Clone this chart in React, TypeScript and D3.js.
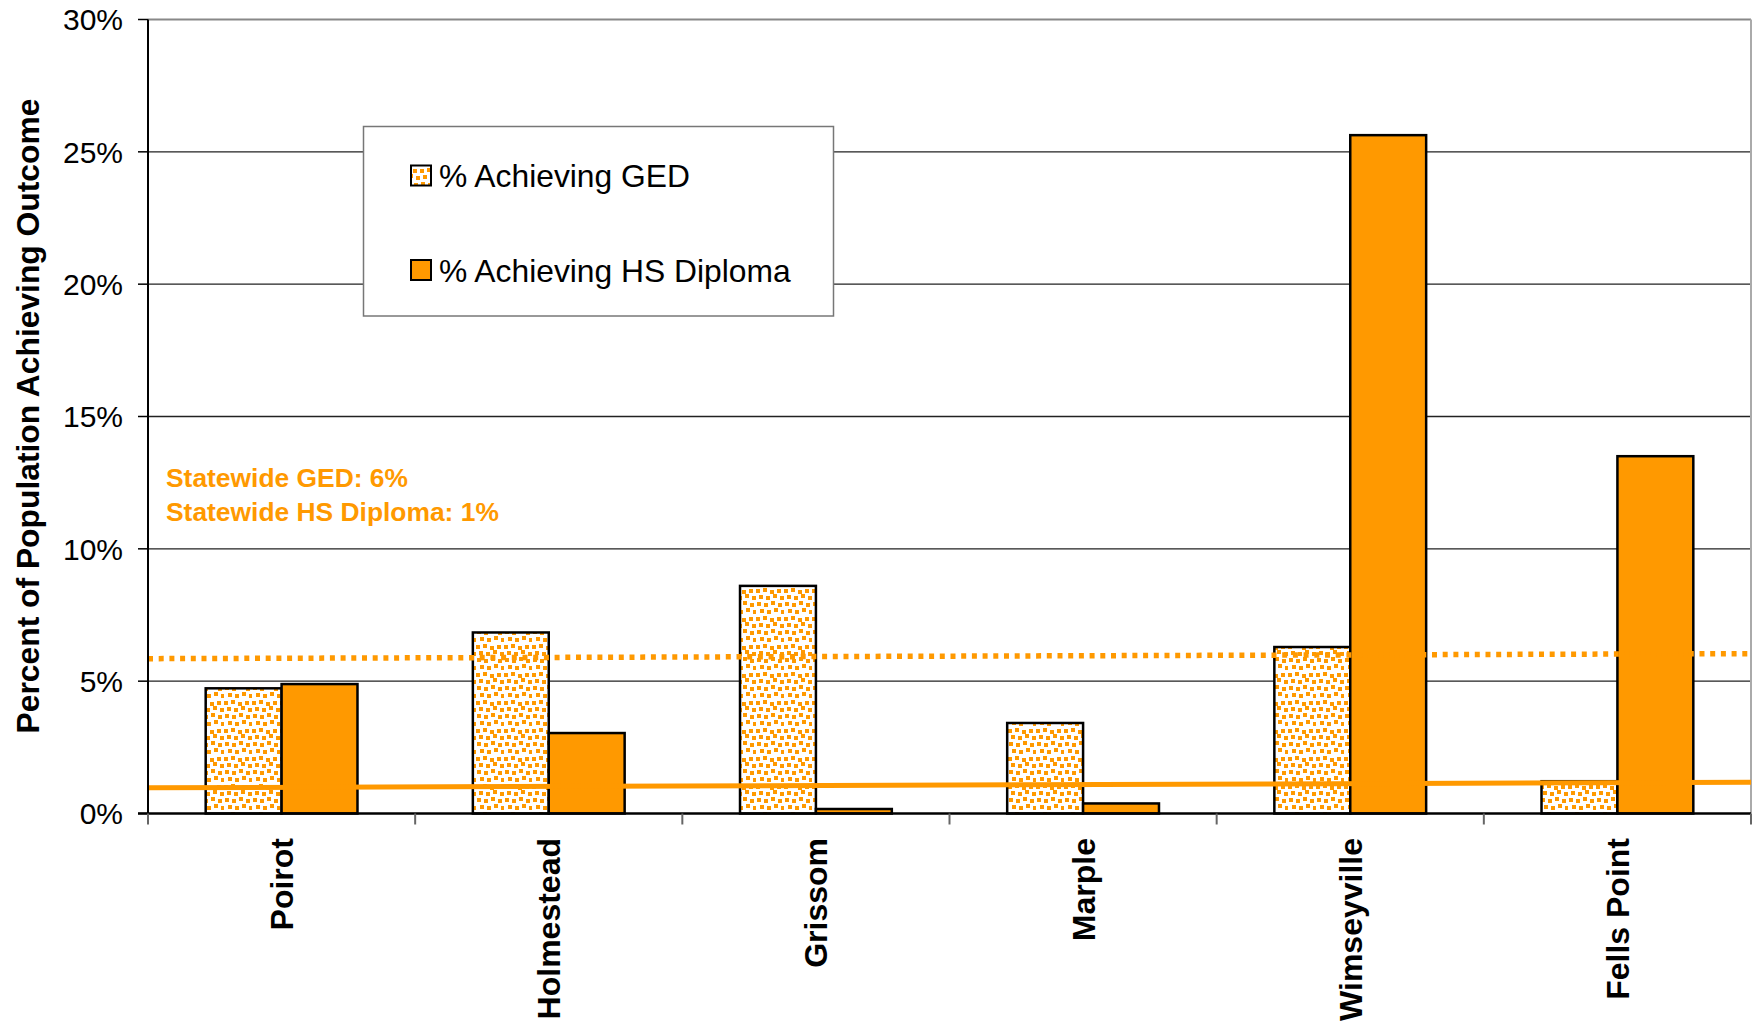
import React from "react";
import * as d3 from "d3";

const categories = ["Poirot", "Holmestead", "Grissom", "Marple", "Wimseyville", "Fells Point"];
const gedValues = [4.73, 6.84, 8.6, 3.42, 6.29, 1.22];
const hsValues = [4.89, 3.04, 0.17, 0.38, 25.63, 13.5];
const yTicks = [0, 5, 10, 15, 20, 25, 30];
const statewideGedLine = [5.85, 6.04];
const statewideHsLine = [0.97, 1.18];
const legendLabels = ["% Achieving GED", "% Achieving HS Diploma"];
const statewideNotes = ["Statewide GED: 6%", "Statewide HS Diploma: 1%"];
const yTitle = "Percent of Population Achieving Outcome";

const W = 1752;
const H = 1023;
const ORANGE = "#FF9900";
const FONT = "'Liberation Sans', Arial, Helvetica, sans-serif";

// pattern dot offsets inside a 28x28 tile (decorative texture)
const dotOffsets: [number, number][] = [
  [0, 1], [7, 0], [14, 2], [21, 1],
  [3, 7], [10, 8], [17, 6], [24, 8],
  [1, 14], [8, 15], [15, 13], [22, 15],
  [4, 21], [11, 22], [18, 20], [25, 22],
];

export default function App() {
  const left = 148;
  const right = 1751;
  const top = 19.5;
  const bottom = 813.5;

  const x = d3.scaleBand<string>().domain(categories).range([left, right]).paddingInner(0).paddingOuter(0);
  const y = d3.scaleLinear().domain([0, 30]).range([bottom, top]);
  const bw = x.bandwidth();
  const barW = bw / 3.52;
  const xLine = d3.scaleLinear().domain([0, 1]).range([left, right]);
  const lineGen = d3
    .line<number>()
    .x((_, i) => xLine(i))
    .y((d) => y(d));

  return (
    <div style={{ position: "absolute", left: 0, top: 0 }}>
      <svg width={W} height={H} style={{ display: "block", fontFamily: FONT }}>
        <defs>
          <pattern id="ged" patternUnits="userSpaceOnUse" width={28} height={28}>
            <rect width={28} height={28} fill="#fff" />
            {dotOffsets.map(([dx, dy], i) => (
              <rect key={i} x={dx} y={dy} width={4} height={4} fill={ORANGE} />
            ))}
          </pattern>
        </defs>
        <rect width={W} height={H} fill="#fff" />

        {/* gridlines */}
        {yTicks.slice(1, -1).map((t) => (
          <line key={t} x1={left} x2={right} y1={y(t)} y2={y(t)} stroke="#222" strokeWidth={1.3} />
        ))}
        {/* plot border top/right */}
        <line x1={left} x2={right} y1={y(30)} y2={y(30)} stroke="#888" strokeWidth={2} />
        <line x1={right} x2={right} y1={top} y2={bottom} stroke="#aaa" strokeWidth={2} />

        {/* legend */}
        <rect x={363.5} y={126.5} width={470} height={189.5} fill="#fff" stroke="#777" strokeWidth={1.5} />
        <rect x={411} y={165.5} width={20} height={20} fill="url(#ged)" stroke="#000" strokeWidth={2} />
        <rect x={411} y={260} width={20} height={20} fill={ORANGE} stroke="#000" strokeWidth={2} />
        <text x={439} y={187} fontSize={31.8} fill="#000">{legendLabels[0]}</text>
        <text x={439} y={282} fontSize={31.8} fill="#000">{legendLabels[1]}</text>

        {/* bars */}
        {categories.map((c, i) => {
          const cx = (x(c) as number) + bw / 2;
          return (
            <g key={c}>
              <rect x={cx - barW} y={y(gedValues[i])} width={barW} height={y(0) - y(gedValues[i])} fill="url(#ged)" stroke="#000" strokeWidth={2.5} />
              <rect x={cx} y={y(hsValues[i])} width={barW} height={y(0) - y(hsValues[i])} fill={ORANGE} stroke="#000" strokeWidth={2.5} />
            </g>
          );
        })}

        {/* statewide lines */}
        <path d={lineGen(statewideGedLine) || ""} fill="none" stroke={ORANGE} strokeWidth={5.5} strokeDasharray="5 5.7" />
        <path d={lineGen(statewideHsLine) || ""} fill="none" stroke={ORANGE} strokeWidth={5} />

        {/* statewide notes */}
        {statewideNotes.map((s, i) => (
          <text key={s} x={166} y={487 + i * 34} fontSize={26.4} fontWeight="bold" fill={ORANGE}>{s}</text>
        ))}

        {/* axes */}
        <line x1={left} x2={left} y1={top} y2={bottom} stroke="#000" strokeWidth={2} />
        <line x1={left - 10} x2={right} y1={bottom} y2={bottom} stroke="#000" strokeWidth={2.5} />
        {yTicks.map((t) => (
          <g key={t}>
            <line x1={left - 10} x2={left} y1={y(t)} y2={y(t)} stroke="#000" strokeWidth={1.5} />
            <text x={123} y={y(t)} dy="0.36em" textAnchor="end" fontSize={30} fill="#000">{`${t}%`}</text>
          </g>
        ))}
        {categories.map((c) => (
          <line key={c} x1={x(c) as number} x2={x(c) as number} y1={bottom} y2={bottom + 11} stroke="#666" strokeWidth={2} />
        ))}
        <line x1={right} x2={right} y1={bottom} y2={bottom + 11} stroke="#666" strokeWidth={2} />

        {/* category labels */}
        {categories.map((c) => {
          const cx = (x(c) as number) + bw / 2;
          return (
            <text key={c} transform={`translate(${cx},838) rotate(-90)`} dy="0.36em" textAnchor="end" fontSize={32} fontWeight="bold" fill="#000">{c}</text>
          );
        })}

        {/* y title */}
        <text transform={`translate(28,416) rotate(-90)`} dy="0.36em" textAnchor="middle" fontSize={31.8} fontWeight="bold" fill="#000">{yTitle}</text>
      </svg>
    </div>
  );
}
